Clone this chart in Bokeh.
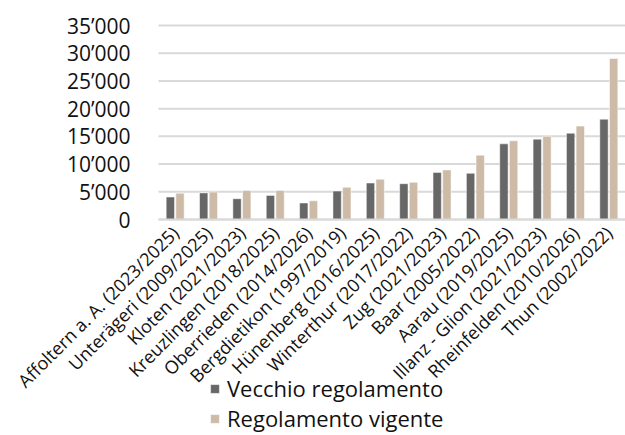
from bokeh.plotting import figure
from bokeh.models import ColumnDataSource, Range1d, Legend, LegendItem, CustomJSTickFormatter, FixedTicker
from bokeh.transform import dodge
from bokeh.embed import file_html
from bokeh.resources import INLINE
import math

categories = [
    "Affoltern a. A. (2023/2025)", "Unterägeri (2009/2025)", "Kloten (2021/2023)",
    "Kreuzlingen (2018/2025)", "Oberrieden (2014/2026)", "Bergdietikon (1997/2019)",
    "Hünenberg (2016/2025)", "Winterthur (2017/2022)", "Zug (2021/2023)",
    "Baar (2005/2022)", "Aarau (2019/2025)", "Illanz - Glion (2021/2023)",
    "Rheinfelden (2010/2026)", "Thun (2002/2022)",
]
vecchio = [4050, 4800, 3750, 4350, 2980, 5130, 6580, 6460, 8500, 8330, 13650, 14500, 15570, 18100]
vigente = [4750, 4950, 5250, 5250, 3380, 5800, 7250, 6700, 8950, 11600, 14200, 15000, 16850, 29050]
series_names = ["Vecchio regolamento", "Regolamento vigente"]
y_ticks = [0, 5000, 10000, 15000, 20000, 25000, 30000, 35000]

FONT = "Open Sans"
idx = list(range(len(categories)))
src = ColumnDataSource(dict(x=idx, cat=categories, a=vecchio, b=vigente))

# The frame spans the whole page; categories occupy the right 467 px,
# the value scale 0..35000 spans 194 px starting 25 px below the top.
Y_MAX = 35000
PX_VALUE = 194
PX_BELOW = 216
PX_ABOVE = 25
y_start = -Y_MAX * PX_BELOW / PX_VALUE
y_end = Y_MAX + Y_MAX * PX_ABOVE / PX_VALUE
cat_px = 467 / len(categories)
x_lo, x_hi = -0.5, len(categories) - 0.5
x_start = x_lo - 158 / cat_px

p = figure(x_range=Range1d(x_start, x_hi), y_range=Range1d(y_start, y_end),
           width=625, height=435, output_backend="svg", toolbar_location=None,
           min_border_left=0, min_border_right=0, min_border_top=0, min_border_bottom=0)
p.outline_line_color = None
p.background_fill_color = "white"
p.border_fill_color = "white"

# horizontal grid lines limited to the category area
grid_src = ColumnDataSource(dict(y=y_ticks, x0=[x_lo] * len(y_ticks), x1=[x_hi] * len(y_ticks)))
p.segment(x0="x0", x1="x1", y0="y", y1="y", source=grid_src, line_color="#d9d9d9", line_width=2)

r1 = p.vbar(x=dodge("x", -0.145), top="a", width=0.25, source=src,
            fill_color="#676767", line_color="white", line_width=0.5)
r2 = p.vbar(x=dodge("x", 0.145), top="b", width=0.25, source=src,
            fill_color="#cdbba7", line_color="white", line_width=0.5)

p.yaxis.fixed_location = x_lo
p.yaxis.ticker = FixedTicker(ticks=y_ticks)
p.yaxis.formatter = CustomJSTickFormatter(code="""
return tick.toFixed(0).replace(/\\B(?=(\\d{3})+(?!\\d))/g, "\\u2019");
""")
p.yaxis.axis_line_color = None
p.yaxis.major_tick_line_color = None
p.yaxis.minor_tick_line_color = None
p.yaxis.major_label_standoff = 22
p.yaxis.major_label_text_font = FONT
p.yaxis.major_label_text_font_size = "21px"
p.yaxis.major_label_text_color = "#111111"

p.xaxis.fixed_location = 0
p.xaxis.bounds = (x_lo, x_hi)
p.xaxis.ticker = FixedTicker(ticks=idx)
p.xaxis.formatter = CustomJSTickFormatter(args=dict(labels=categories), code="""
const i = Math.round(tick);
return (i >= 0 && i < labels.length) ? labels[i] : "";
""")
p.xaxis.axis_line_color = "#d9d9d9"
p.xaxis.axis_line_width = 2
p.xaxis.major_tick_line_color = None
p.xaxis.minor_tick_line_color = None
p.xaxis.major_label_orientation = math.pi / 4
p.xaxis.major_label_standoff = 4
p.xaxis.major_label_text_font = FONT
p.xaxis.major_label_text_font_size = "18px"
p.xaxis.major_label_text_color = "#111111"

p.xgrid.grid_line_color = None
p.ygrid.grid_line_color = None

legend = Legend(items=[LegendItem(label=series_names[0], renderers=[r1]),
                       LegendItem(label=series_names[1], renderers=[r2])],
                location=(209, 2))
legend.label_text_font = FONT
legend.label_text_font_size = "22px"
legend.label_text_color = "#111111"
legend.glyph_width = 11
legend.glyph_height = 11
legend.label_standoff = 7
legend.label_height = 23
legend.spacing = 0
legend.padding = 0
legend.margin = 0
legend.border_line_color = None
legend.background_fill_alpha = 0
p.add_layout(legend, "center")

open("out.html", "w").write(file_html(p, INLINE))
